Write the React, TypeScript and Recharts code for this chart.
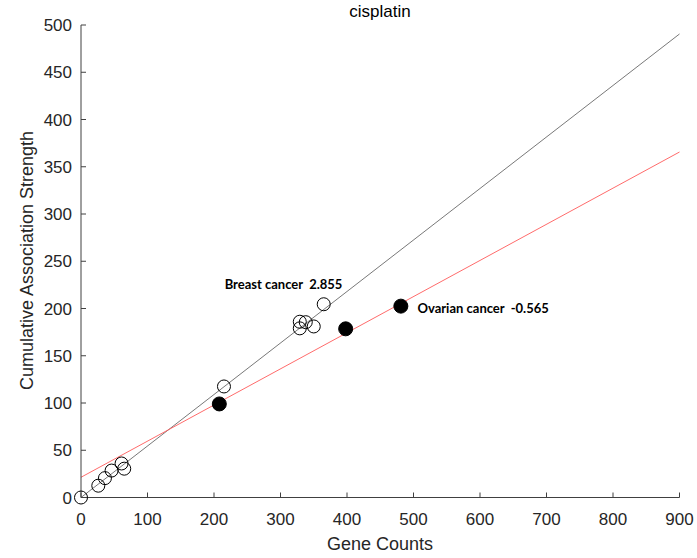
import React from "react";
import {
  ComposedChart,
  Scatter,
  XAxis,
  YAxis,
  ReferenceLine,
  ReferenceDot,
} from "recharts";

const X_TICKS = [0, 100, 200, 300, 400, 500, 600, 700, 800, 900];
const Y_TICKS = [0, 50, 100, 150, 200, 250, 300, 350, 400, 450, 500];

// breast cancer genes (open circles)
const OPEN_X = [0, 26, 36, 46, 61, 65, 215, 329, 338, 329, 350, 365];
const OPEN_Y = [0, 12.5, 20.5, 28.5, 36, 30.5, 117.5, 186, 185.5, 179, 181, 204.5];

// ovarian cancer genes (filled circles)
const FILLED_X = [208, 398, 481];
const FILLED_Y = [99, 178.5, 202.5];

// fitted lines: [x0, y0, x1, y1]
const BREAST_FIT = [0, 0, 900, 490.5];
const OVARIAN_FIT = [0, 21.4, 900, 365.6];

const openData = OPEN_X.map((x, i) => ({ x, y: OPEN_Y[i] }));
const filledData = FILLED_X.map((x, i) => ({ x, y: FILLED_Y[i] }));

const AXIS = "#404040";
const tickStyle = { fill: "#262626", fontSize: 17, fontFamily: "Liberation Sans, Arial, sans-serif" };
const noText = () => "";

function OpenCircle(props: any) {
  return <circle cx={props.cx} cy={props.cy} r={6.5} fill="none" stroke="#000" strokeWidth={1} />;
}

function FilledCircle(props: any) {
  return <circle cx={props.cx} cy={props.cy} r={7} fill="#000" stroke="#000" />;
}

function Note({ viewBox, text }: any) {
  return (
    <text
      x={viewBox.x}
      y={viewBox.y}
      dy="0.35em"
      textAnchor="start"
      fontFamily="Lato, sans-serif"
      fontWeight={700}
      fontSize={13}
      fill="#000"
      style={{ whiteSpace: "pre" }}
    >
      {text}
    </text>
  );
}

export default function App() {
  const font = "Liberation Sans, Arial, sans-serif";
  return (
    <div style={{ position: "absolute", left: 0, top: 0, width: 697, height: 558, background: "#fff" }}>
      <div
        style={{
          position: "absolute",
          left: 280,
          width: 200,
          top: 2,
          textAlign: "center",
          fontFamily: font,
          fontSize: 17,
          color: "#000",
        }}
      >
        cisplatin
      </div>
      <div
        style={{
          position: "absolute",
          left: 230,
          width: 300,
          top: 534,
          textAlign: "center",
          fontFamily: font,
          fontSize: 18,
          color: "#262626",
        }}
      >
        Gene Counts
      </div>
      <div
        style={{
          position: "absolute",
          left: 27 - 160,
          width: 320,
          top: 261 - 11,
          textAlign: "center",
          fontFamily: font,
          fontSize: 18,
          color: "#262626",
          transform: "rotate(-90deg)",
        }}
      >
        Cumulative Association Strength
      </div>
      <ComposedChart
        width={697}
        height={558}
        margin={{ top: 25, right: 17.5, bottom: 30.5, left: 0 }}
      >
        <XAxis
          xAxisId="b"
          type="number"
          dataKey="x"
          domain={[0, 900]}
          ticks={X_TICKS}
          height={30}
          tickSize={-5}
          tickMargin={20}
          stroke={AXIS}
          tick={tickStyle}
          interval={0}
        />
        <XAxis
          xAxisId="t"
          orientation="top"
          type="number"
          dataKey="x"
          domain={[0, 900]}
          ticks={X_TICKS}
          height={0}
          tickSize={-5}
          stroke={AXIS}
          tickFormatter={noText}
          interval={0}
        />
        <YAxis
          yAxisId="l"
          type="number"
          dataKey="y"
          domain={[0, 500]}
          ticks={Y_TICKS}
          width={81}
          tickSize={-5}
          tickMargin={14}
          stroke={AXIS}
          tick={tickStyle}
          interval={0}
        />
        <YAxis
          yAxisId="r"
          orientation="right"
          type="number"
          dataKey="y"
          domain={[0, 500]}
          ticks={Y_TICKS}
          width={0}
          tickSize={-5}
          stroke={AXIS}
          tickFormatter={noText}
          interval={0}
        />
        <ReferenceLine
          xAxisId="b"
          yAxisId="l"
          segment={[
            { x: BREAST_FIT[0], y: BREAST_FIT[1] },
            { x: BREAST_FIT[2], y: BREAST_FIT[3] },
          ]}
          stroke="#555"
          strokeWidth={0.8}
          ifOverflow="visible"
        />
        <ReferenceLine
          xAxisId="b"
          yAxisId="l"
          segment={[
            { x: OVARIAN_FIT[0], y: OVARIAN_FIT[1] },
            { x: OVARIAN_FIT[2], y: OVARIAN_FIT[3] },
          ]}
          stroke="#ff5a5a"
          strokeWidth={0.9}
          ifOverflow="visible"
        />
        <Scatter
          xAxisId="b"
          yAxisId="l"
          data={openData}
          shape={<OpenCircle />}
          isAnimationActive={false}
        />
        <Scatter
          xAxisId="b"
          yAxisId="l"
          data={filledData}
          shape={<FilledCircle />}
          isAnimationActive={false}
        />
        <ReferenceDot
          xAxisId="b"
          yAxisId="l"
          x={216}
          y={225}
          r={0}
          ifOverflow="visible"
          label={<Note text="Breast cancer  2.855" />}
        />
        <ReferenceDot
          xAxisId="b"
          yAxisId="l"
          x={506}
          y={200.5}
          r={0}
          ifOverflow="visible"
          label={<Note text="Ovarian cancer  -0.565" />}
        />
      </ComposedChart>
    </div>
  );
}
